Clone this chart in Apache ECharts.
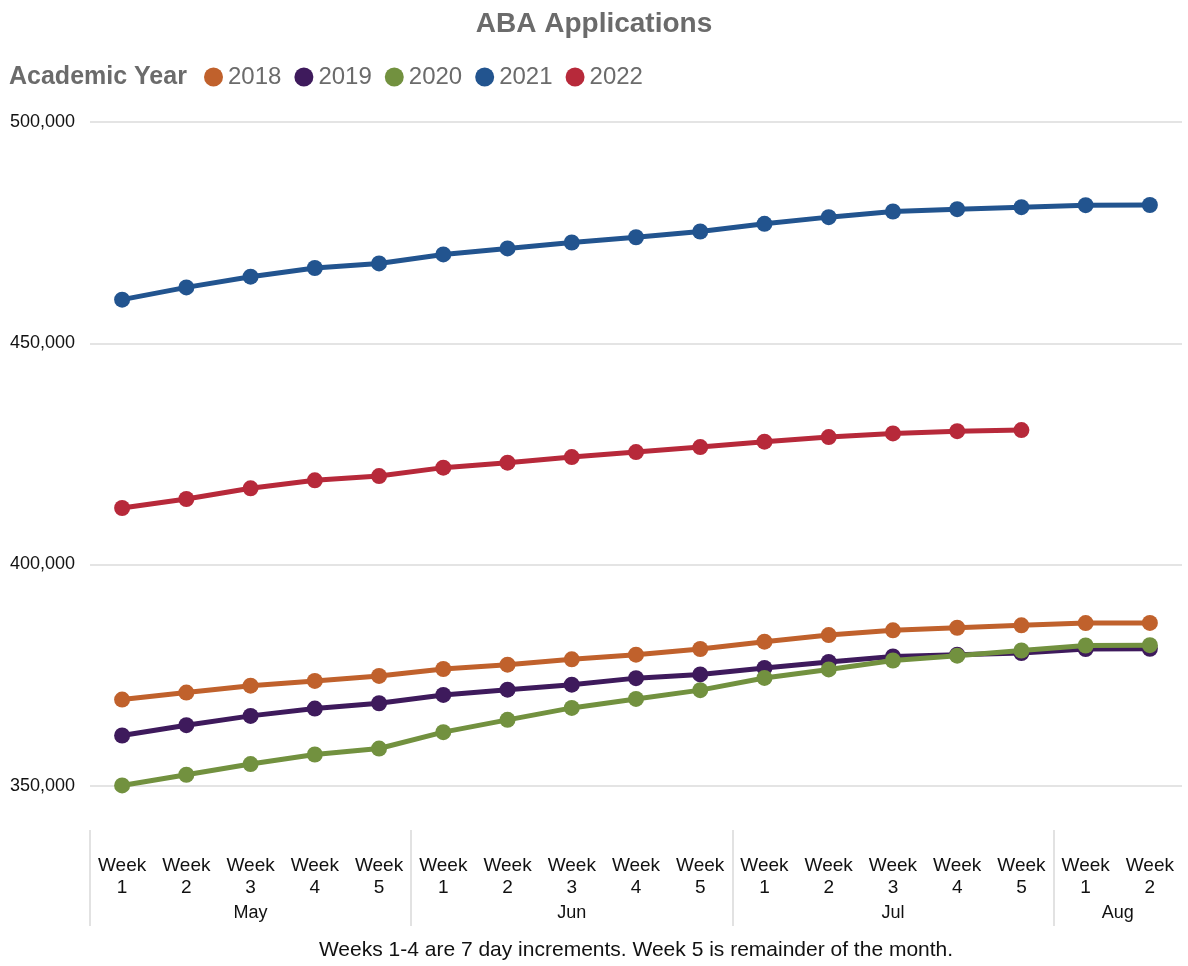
<!DOCTYPE html>
<html>
<head>
<meta charset="utf-8">
<script src="https://cdn.jsdelivr.net/npm/echarts@6/dist/echarts.min.js"></script>
<style>
html,body{margin:0;padding:0;background:#fff;}
#chart{width:1188px;height:966px;}
</style>
</head>
<body>
<div id="chart"></div>
<script>
// ---- data ----
const weekLabels = ['Week\n1','Week\n2','Week\n3','Week\n4','Week\n5',
                    'Week\n1','Week\n2','Week\n3','Week\n4','Week\n5',
                    'Week\n1','Week\n2','Week\n3','Week\n4','Week\n5',
                    'Week\n1','Week\n2'];
const monthNames = ['May','Jun','Jul','Aug'];
const monthWeekCounts = [5, 5, 5, 2];
const years = ['2018','2019','2020','2021','2022'];
const y2018 = [369470,371050,372620,373680,374810,376390,377360,378580,379620,380900,382550,384060,385120,385710,386250,386770,386800];
const y2019 = [361350,363690,365790,367440,368650,370530,371720,372850,374320,375150,376620,377970,379210,379620,380000,380900,380950];
const y2020 = [350070,352480,354900,357060,358410,362110,364890,367590,369620,371610,374360,376280,378310,379390,380560,381690,381760];
const y2021 = [459850,462620,465040,467000,468040,470070,471420,472770,473950,475250,476990,478500,479770,480310,480760,481210,481250];
const y2022 = [412770,414800,417220,419020,419990,421890,423010,424280,425400,426530,427750,428790,429620,430140,430370];
const yTicks = [350000, 400000, 450000, 500000];
const footnote = 'Weeks 1-4 are 7 day increments. Week 5 is remainder of the month.';

const colors = ['#C0612C','#3E1A5C','#72913F','#22548F','#B7293A'];
const seriesData = [y2018, y2019, y2020, y2021, y2022];

// month centres and separators in band units
const monthCenters = [];
const monthBounds = [];
let acc = 0;
monthWeekCounts.forEach(n => { monthBounds.push(acc); monthCenters.push(acc + n / 2); acc += n; });

const chart = echarts.init(document.getElementById('chart'), null, {renderer: 'canvas'});
const FONT = '"Liberation Sans", Arial, sans-serif';

chart.setOption({
  animation: false,
  textStyle: {fontFamily: FONT},
  title: [
    {text: 'ABA Applications', left: 'center', top: 5,
     textStyle: {fontFamily: FONT, fontSize: 28, fontWeight: 'bold', color: '#6B6B6B'}},
    {text: 'Academic Year', left: 4, top: 60,
     textStyle: {fontFamily: FONT, fontSize: 25, fontWeight: 'bold', color: '#6B6B6B'}}
  ],
  legend: {
    data: years, left: 199, top: 60, icon: 'circle', itemWidth: 19, itemHeight: 19, itemGap: 13,
    textStyle: {fontFamily: FONT, fontSize: 24, color: '#6B6B6B'}
  },
  grid: {left: 90, right: 6, top: 122, bottom: 136, containLabel: false},
  xAxis: [
    {type: 'category', data: weekLabels, boundaryGap: true, position: 'bottom',
     axisLine: {show: false}, axisTick: {show: false},
     axisLabel: {interval: 0, fontFamily: FONT, fontSize: 19, lineHeight: 22, color: '#111', margin: 25}},
    {type: 'value', min: 0, max: weekLabels.length, position: 'bottom',
     axisLine: {show: false}, splitLine: {show: false},
     axisTick: {show: true, customValues: monthBounds, length: 96, lineStyle: {color: '#D9D9D9', width: 1.5}},
     axisLabel: {show: true, customValues: monthCenters, fontFamily: FONT, fontSize: 18, color: '#111', margin: 74,
       formatter: v => { const i = monthCenters.indexOf(v); return i >= 0 ? monthNames[i] : ''; }},
     name: footnote, nameLocation: 'middle', nameGap: 110,
     nameTextStyle: {fontFamily: FONT, fontSize: 21, color: '#111'}}
  ],
  yAxis: {
    type: 'value', min: 340000, max: 500000, interval: 10000,
    axisLine: {show: false}, axisTick: {show: false},
    axisLabel: {fontFamily: FONT, fontSize: 18, color: '#111', margin: 15,
      formatter: v => yTicks.indexOf(v) >= 0 ? v.toLocaleString('en-US') : ''},
    splitLine: {show: true, lineStyle: {color: ['rgba(0,0,0,0)','#E4E4E4','rgba(0,0,0,0)','rgba(0,0,0,0)','rgba(0,0,0,0)'], width: 2}}
  },
  series: years.map((y, i) => ({
    name: y, type: 'line', xAxisIndex: 0, data: seriesData[i],
    symbol: 'circle', symbolSize: 16, showAllSymbol: true,
    lineStyle: {width: 5, color: colors[i]},
    itemStyle: {color: colors[i]},
    z: 2 + i
  }))
});
</script>
</body>
</html>
